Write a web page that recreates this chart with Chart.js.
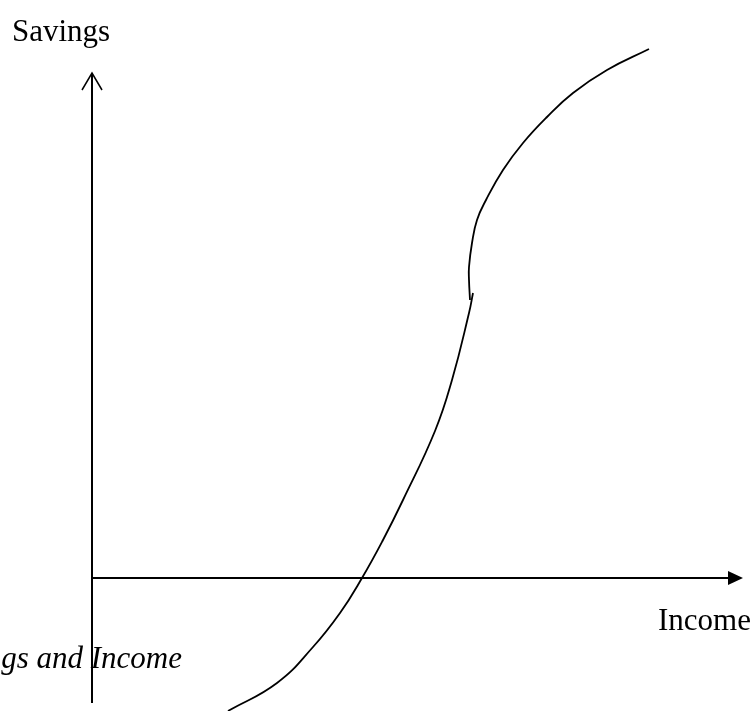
<!DOCTYPE html>
<html>
<head>
<meta charset="utf-8">
<script src="https://cdn.jsdelivr.net/npm/chart.js@4"></script>
<style>
  html, body { margin: 0; padding: 0; background: #fff; }
  #wrap { width: 756px; height: 711px; }
</style>
</head>
<body>
<div id="wrap"><canvas id="chart" width="756" height="711"></canvas></div>
<script>
// Savings vs income sketch: two curve pieces
// (income / savings in arbitrary units, origin where the axes cross)
const lowerIncome  = [136, 185, 221, 248, 270, 291, 311, 343, 360, 377, 381];
const lowerSavings = [-133, -105, -69, -35, 0, 38, 78, 147, 198, 265, 285];

const upperIncome  = [378, 377, 377, 380, 385, 394, 411, 431, 455, 481, 515, 557];
const upperSavings = [278, 298, 311, 335, 358, 378, 408, 435, 461, 485, 508, 529];

// axis extents (same units)
const incomeRange  = [-92, 664];
const savingsRange = [-133, 578];
const incomeAxisEnd  = 651;
const savingsAxisEnd = 505;
const savingsAxisLow = -125;

const axisLabelY = "Savings";
const axisLabelX = "Income";
const caption = "Savings and Income";

const SERIF = "'Liberation Serif', 'DejaVu Serif', serif";
const INK = "#000";

function toPoints(xs, ys) {
    return xs.map((x, i) => ({ x: x, y: ys[i] }));
}

// draws the two axes with arrows and the loose labels
const axesPlugin = {
    id: "sketchAxes",
    afterDatasetsDraw(chart) {
        const ctx = chart.ctx;
        const sx = chart.scales.x;
        const sy = chart.scales.y;
        const x0 = sx.getPixelForValue(0);
        const y0 = sy.getPixelForValue(0);
        const yTop = sy.getPixelForValue(savingsAxisEnd);
        const yBot = sy.getPixelForValue(savingsAxisLow);
        const xEnd = sx.getPixelForValue(incomeAxisEnd);

        ctx.save();
        ctx.strokeStyle = INK;
        ctx.fillStyle = INK;
        ctx.lineWidth = 2;

        // vertical axis, open arrow head
        ctx.beginPath();
        ctx.moveTo(x0, yBot);
        ctx.lineTo(x0, yTop);
        ctx.stroke();
        ctx.lineWidth = 1.5;
        ctx.beginPath();
        ctx.moveTo(x0 - 10, yTop + 17);
        ctx.lineTo(x0, yTop);
        ctx.lineTo(x0 + 10, yTop + 17);
        ctx.stroke();

        // horizontal axis, filled arrow head
        ctx.lineWidth = 2;
        ctx.beginPath();
        ctx.moveTo(x0, y0);
        ctx.lineTo(xEnd - 12, y0);
        ctx.stroke();
        ctx.beginPath();
        ctx.moveTo(xEnd, y0);
        ctx.lineTo(xEnd - 15, y0 - 7);
        ctx.lineTo(xEnd - 15, y0 + 7);
        ctx.closePath();
        ctx.fill();

        // labels
        ctx.font = "31px " + SERIF;
        ctx.textBaseline = "alphabetic";
        ctx.textAlign = "left";
        ctx.fillText(axisLabelY, 12, 41);
        ctx.fillText(axisLabelX, 658, 630);

        ctx.font = "italic 31px " + SERIF;
        ctx.textAlign = "right";
        ctx.fillText(caption, 182, 668);
        ctx.restore();
    }
};

const curveStyle = {
    borderColor: INK,
    borderWidth: 1.8,
    pointRadius: 0,
    showLine: true,
    fill: false,
    tension: 0.45,
};

new Chart(document.getElementById("chart"), {
    type: "scatter",
    data: {
        datasets: [
            { data: toPoints(lowerIncome, lowerSavings), ...curveStyle },
            { data: toPoints(upperIncome, upperSavings), ...curveStyle },
        ],
    },
    options: {
        responsive: false,
        animation: false,
        layout: { padding: 0 },
        plugins: {
            legend: { display: false },
            tooltip: { enabled: false },
        },
        scales: {
            x: { type: "linear", min: incomeRange[0], max: incomeRange[1], display: false },
            y: { type: "linear", min: savingsRange[0], max: savingsRange[1], display: false },
        },
    },
    plugins: [axesPlugin],
});
</script>
</body>
</html>
